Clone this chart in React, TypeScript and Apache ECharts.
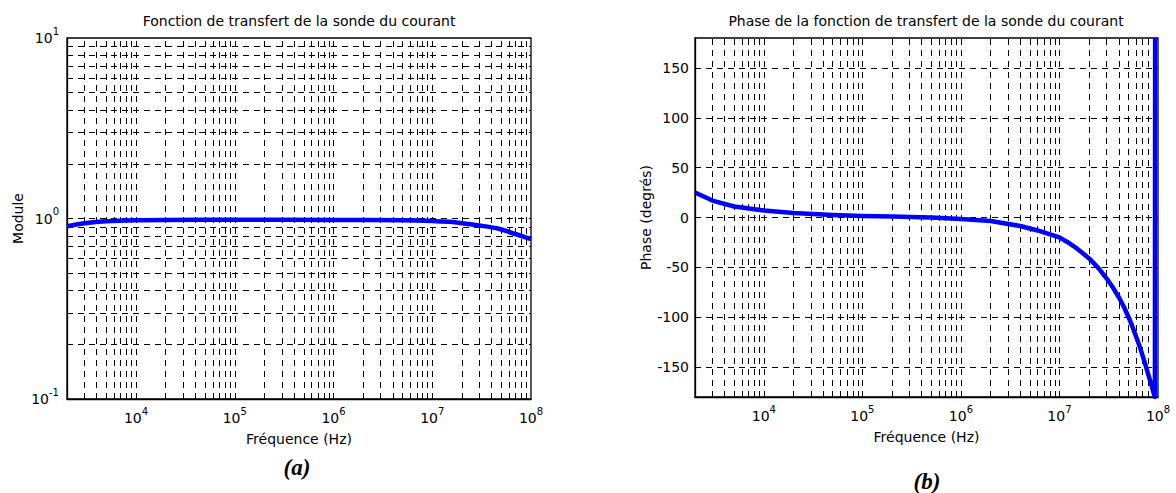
import React, { useEffect, useRef } from "react";
import * as echarts from "echarts";

// ---------- data ----------
const moduleFreq = [2e3, 3e3, 5e3, 1e4, 2e4, 1e5, 1e6, 5e6, 1e7, 1.5e7, 2e7, 3e7, 4.5e7, 6e7, 8e7, 1e8];
const moduleValues = [0.905, 0.94, 0.965, 0.978, 0.982, 0.983, 0.982, 0.978, 0.97, 0.958, 0.942, 0.914, 0.883, 0.842, 0.8, 0.77];

const phaseFreq = [2e3, 3e3, 5e3, 1e4, 2e4, 5e4, 1e5, 2e5, 5e5, 1e6, 2e6, 4e6, 6e6, 1e7, 1.2e7, 1.5e7, 2e7, 2.5e7, 3e7, 3.5e7, 4e7, 4.5e7, 5e7, 5.5e7, 6e7, 6.5e7, 7e7, 7.5e7, 8e7, 8.5e7, 9e7, 9.3e7, 9.35e7];
const phaseValues = [25, 17, 11, 7, 4.5, 2.5, 1.5, 1, 0, -1.5, -3.5, -8.5, -13, -20, -24.5, -31, -41, -51, -61, -70.5, -80, -89.5, -99.5, -109.5, -119.5, -129, -139, -148.5, -158, -166.5, -175.5, -180, 180];

const freqMin = 2e3;
const freqMax = 1e8;
const freqTicks = [1e4, 1e5, 1e6, 1e7, 1e8];
const gridMantissas = [1, 2, 3, 4, 5, 6, 7, 8, 9];
const freqDecades = [3, 4, 5, 6, 7];
const moduleDecades = [-1, 0];
const moduleMin = 0.1;
const moduleMax = 10;
const moduleTicks = [0.1, 1, 10];
const phaseMin = -180;
const phaseMax = 180;
const phaseTicks = [-150, -100, -50, 0, 50, 100, 150];

const titleA = "Fonction de transfert de la sonde du courant";
const titleB = "Phase de la fonction de transfert de la sonde du courant";
const xName = "Fréquence (Hz)";
const yNameA = "Module";
const yNameB = "Phase (degrés)";
const captionA = "(a)";
const captionB = "(b)";

// ---------- helpers ----------
const FONT = "DejaVu Sans";
const gridValues = (decades: number[], lo: number, hi: number) => {
  const out: number[] = [];
  decades.forEach((d) => gridMantissas.forEach((m) => {
    const v = m * Math.pow(10, d);
    if (v > lo * 1.0001 && v < hi * 0.9999) out.push(v);
  }));
  return out;
};
const dashStyle = { type: [6, 5] as any, color: "#000", width: 1 };
const powLabel = (v: number) => {
  const l = Math.log10(v);
  if (Math.abs(l - Math.round(l)) > 1e-6) return "";
  return `{b|10}{s|${Math.round(l)}}`;
};
const richPow = {
  b: { fontSize: 14, fontFamily: FONT, color: "#000", lineHeight: 14, verticalAlign: "bottom" },
  s: { fontSize: 10, fontFamily: FONT, color: "#000", lineHeight: 10, padding: [0, 0, 9, 0], verticalAlign: "bottom" },
};

export default function App() {
  const ref = useRef<HTMLDivElement>(null);
  useEffect(() => {
    if (!ref.current) return;
    const chart = echarts.init(ref.current, undefined, { renderer: "svg" });
    const xGrid = gridValues(freqDecades, freqMin, freqMax);
    const yGridA = gridValues(moduleDecades, moduleMin, moduleMax);

    const option: any = {
      animation: false,
      backgroundColor: "#fff",
      textStyle: { fontFamily: FONT },
      grid: [
        { left: 67, top: 38, width: 464, height: 361, show: true, borderColor: "#000", borderWidth: 1.3, backgroundColor: "#fff" },
        { left: 695, top: 38, width: 463, height: 359, show: true, borderColor: "#000", borderWidth: 1.3, backgroundColor: "#fff" },
      ],
      xAxis: [0, 1].map((i) => ({
        type: "log",
        gridIndex: i,
        min: freqMin,
        max: freqMax,
        logBase: 10,
        name: xName,
        nameLocation: "middle",
        nameGap: 33,
        nameTextStyle: { fontSize: 14, fontFamily: FONT, color: "#000" },
        axisLine: { show: true, onZero: false, lineStyle: { color: "#000", width: 1.3 } },
        axisTick: { show: false },
        splitLine: { show: false },
        axisLabel: { formatter: powLabel, rich: richPow, margin: 12, customValues: freqTicks, hideOverlap: false },
      })),
      yAxis: [
        {
          type: "log",
          gridIndex: 0,
          min: moduleMin,
          max: moduleMax,
          logBase: 10,
          name: yNameA,
          nameLocation: "middle",
          nameGap: 42,
          nameTextStyle: { fontSize: 14, fontFamily: FONT, color: "#000" },
          axisLine: { show: true, onZero: false, lineStyle: { color: "#000", width: 1.3 } },
          axisTick: { show: false },
          splitLine: { show: false },
          axisLabel: { formatter: powLabel, rich: richPow, margin: 8, customValues: moduleTicks },
        },
        {
          type: "value",
          gridIndex: 1,
          min: phaseMin,
          max: phaseMax,
          name: yNameB,
          nameLocation: "middle",
          nameGap: 38,
          nameTextStyle: { fontSize: 14, fontFamily: FONT, color: "#000" },
          axisLine: { show: true, onZero: false, lineStyle: { color: "#000", width: 1.3 } },
          axisTick: { show: false },
          splitLine: { show: false },
          axisLabel: {
            fontSize: 14,
            fontFamily: FONT,
            color: "#000",
            margin: 6,
            customValues: phaseTicks,
            formatter: (v: number) => String(v),
          },
        },
      ],
      series: [
        {
          type: "line",
          xAxisIndex: 0,
          yAxisIndex: 0,
          data: [],
          silent: true,
          z: 1,
          markLine: {
            silent: true,
            symbol: ["none", "none"],
            label: { show: false },
            lineStyle: dashStyle,
            data: [...xGrid.map((v) => ({ xAxis: v })), ...yGridA.map((v) => ({ yAxis: v }))],
          },
        },
        {
          type: "line",
          xAxisIndex: 1,
          yAxisIndex: 1,
          data: [],
          silent: true,
          z: 1,
          markLine: {
            silent: true,
            symbol: ["none", "none"],
            label: { show: false },
            lineStyle: dashStyle,
            data: [...xGrid.map((v) => ({ xAxis: v })), ...phaseTicks.map((v) => ({ yAxis: v }))],
          },
        },
        {
          type: "line",
          xAxisIndex: 0,
          yAxisIndex: 0,
          z: 5,
          showSymbol: false,
          symbol: "none",
          smooth: 0.3,
          lineStyle: { color: "#0000ff", width: 4.5 },
          data: moduleFreq.map((f, i) => [f, moduleValues[i]]),
        },
        {
          type: "line",
          xAxisIndex: 1,
          yAxisIndex: 1,
          z: 5,
          showSymbol: false,
          symbol: "none",
          lineStyle: { color: "#0000ff", width: 4.5, join: "round" },
          data: phaseFreq.map((f, i) => [f, phaseValues[i]]),
        },
      ],
      graphic: [
        { type: "text", x: 299, y: 21, style: { text: titleA, fontSize: 14, fontFamily: FONT, fill: "#000", align: "center", verticalAlign: "middle" } },
        { type: "text", x: 926, y: 21, style: { text: titleB, fontSize: 14, fontFamily: FONT, fill: "#000", align: "center", verticalAlign: "middle" } },
        { type: "text", x: 297, y: 467, style: { text: captionA, fontSize: 23, fontFamily: "Liberation Serif", fontWeight: "bold", fontStyle: "italic", fill: "#000", align: "center", verticalAlign: "middle" } },
        { type: "text", x: 927, y: 481, style: { text: captionB, fontSize: 23, fontFamily: "Liberation Serif", fontWeight: "bold", fontStyle: "italic", fill: "#000", align: "center", verticalAlign: "middle" } },
      ],
    };
    chart.setOption(option);
    return () => chart.dispose();
  }, []);
  return <div ref={ref} style={{ position: "absolute", left: 0, top: 0, width: 1176, height: 493 }} />;
}
